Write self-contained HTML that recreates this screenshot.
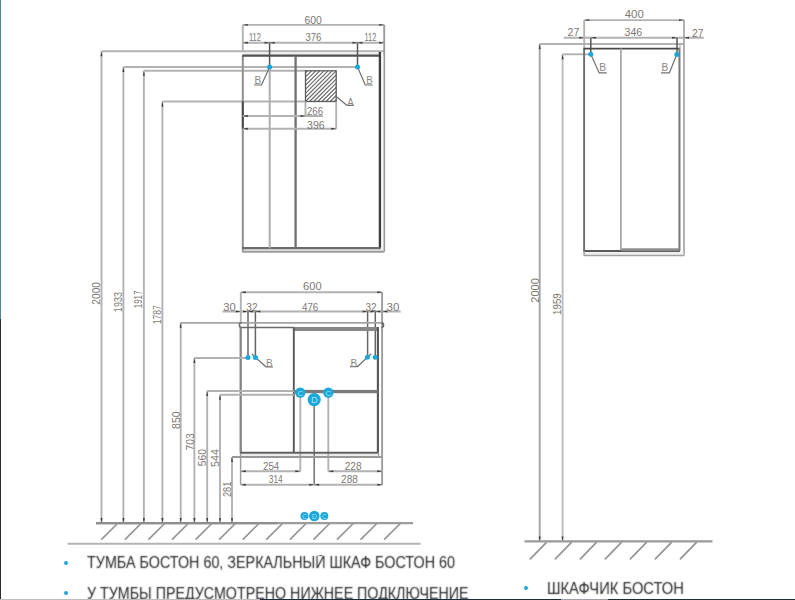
<!DOCTYPE html>
<html><head><meta charset="utf-8"><style>
html,body{margin:0;padding:0;background:#fff;}
body{width:795px;height:600px;overflow:hidden;position:relative;font-family:"Liberation Sans",sans-serif;}
svg{position:absolute;left:0;top:0;}
svg text{font-family:"Liberation Sans",sans-serif;}
.b{filter:url(#soft);position:absolute;color:#262626;font-size:15.6px;white-space:nowrap;line-height:1;transform-origin:0 0;}
.dot{position:absolute;width:4px;height:4px;border-radius:50%;background:#1ea8e0;}
.edge{position:absolute;left:0;width:1px;}
</style></head><body>
<svg width="795" height="600" viewBox="0 0 795 600"><defs><filter id="soft" filterUnits="userSpaceOnUse" x="0" y="0" width="795" height="600"><feConvolveMatrix order="3" kernelMatrix="1 2 1 2 12 2 1 2 1" divisor="24" edgeMode="none"/></filter></defs>
<line x1="101.5" y1="51.3" x2="101.5" y2="523.1" stroke="#b2b2b2" stroke-width="1.9"/>
<polygon points="101.50,51.30 102.45,56.30 100.55,56.30" fill="#3a3a3a"/>
<polygon points="101.50,523.10 100.55,518.10 102.45,518.10" fill="#3a3a3a"/>
<line x1="123.4" y1="67.0" x2="123.4" y2="523.1" stroke="#b2b2b2" stroke-width="1.9"/>
<polygon points="123.40,67.00 124.35,72.00 122.45,72.00" fill="#3a3a3a"/>
<polygon points="123.40,523.10 122.45,518.10 124.35,518.10" fill="#3a3a3a"/>
<line x1="143.9" y1="70.8" x2="143.9" y2="523.1" stroke="#b2b2b2" stroke-width="1.9"/>
<polygon points="143.90,70.80 144.85,75.80 142.95,75.80" fill="#3a3a3a"/>
<polygon points="143.90,523.10 142.95,518.10 144.85,518.10" fill="#3a3a3a"/>
<line x1="162.4" y1="101.5" x2="162.4" y2="523.1" stroke="#b2b2b2" stroke-width="1.9"/>
<polygon points="162.40,101.50 163.35,106.50 161.45,106.50" fill="#3a3a3a"/>
<polygon points="162.40,523.10 161.45,518.10 163.35,518.10" fill="#3a3a3a"/>
<line x1="180.7" y1="322.8" x2="180.7" y2="523.1" stroke="#b2b2b2" stroke-width="1.9"/>
<polygon points="180.70,322.80 181.65,327.80 179.75,327.80" fill="#3a3a3a"/>
<polygon points="180.70,523.10 179.75,518.10 181.65,518.10" fill="#3a3a3a"/>
<line x1="194.4" y1="358.0" x2="194.4" y2="523.1" stroke="#b2b2b2" stroke-width="1.9"/>
<polygon points="194.40,358.00 195.35,363.00 193.45,363.00" fill="#3a3a3a"/>
<polygon points="194.40,523.10 193.45,518.10 195.35,518.10" fill="#3a3a3a"/>
<line x1="207.2" y1="391.0" x2="207.2" y2="523.1" stroke="#b2b2b2" stroke-width="1.9"/>
<polygon points="207.20,391.00 208.15,396.00 206.25,396.00" fill="#3a3a3a"/>
<polygon points="207.20,523.10 206.25,518.10 208.15,518.10" fill="#3a3a3a"/>
<line x1="220.0" y1="394.8" x2="220.0" y2="523.1" stroke="#b2b2b2" stroke-width="1.9"/>
<polygon points="220.00,394.80 220.95,399.80 219.05,399.80" fill="#3a3a3a"/>
<polygon points="220.00,523.10 219.05,518.10 220.95,518.10" fill="#3a3a3a"/>
<line x1="232.0" y1="457.0" x2="232.0" y2="523.1" stroke="#b2b2b2" stroke-width="1.9"/>
<polygon points="232.00,457.00 232.95,462.00 231.05,462.00" fill="#3a3a3a"/>
<polygon points="232.00,523.10 231.05,518.10 232.95,518.10" fill="#3a3a3a"/>
<line x1="101.5" y1="51.3" x2="384.2" y2="51.3" stroke="#b2b2b2" stroke-width="1.9"/>
<line x1="123.4" y1="67.0" x2="357.5" y2="67.0" stroke="#b2b2b2" stroke-width="1.9"/>
<line x1="143.9" y1="70.8" x2="305.5" y2="70.8" stroke="#b2b2b2" stroke-width="1.9"/>
<line x1="162.4" y1="101.5" x2="305.5" y2="101.5" stroke="#b2b2b2" stroke-width="1.9"/>
<line x1="242.8" y1="24.9" x2="384.2" y2="24.9" stroke="#b2b2b2" stroke-width="1.9"/>
<polygon points="242.80,24.90 247.80,23.95 247.80,25.85" fill="#3a3a3a"/>
<polygon points="384.20,24.90 379.20,25.85 379.20,23.95" fill="#3a3a3a"/>
<line x1="242.8" y1="42.7" x2="384.2" y2="42.7" stroke="#b2b2b2" stroke-width="1.9"/>
<polygon points="242.80,42.70 247.80,41.75 247.80,43.65" fill="#3a3a3a"/>
<polygon points="269.60,42.70 264.60,43.65 264.60,41.75" fill="#3a3a3a"/>
<polygon points="269.60,42.70 274.60,41.75 274.60,43.65" fill="#3a3a3a"/>
<polygon points="357.50,42.70 352.50,43.65 352.50,41.75" fill="#3a3a3a"/>
<polygon points="357.50,42.70 362.50,41.75 362.50,43.65" fill="#3a3a3a"/>
<polygon points="384.20,42.70 379.20,43.65 379.20,41.75" fill="#3a3a3a"/>
<line x1="242.8" y1="24.9" x2="242.8" y2="51.3" stroke="#b2b2b2" stroke-width="1.9"/>
<line x1="384.2" y1="24.9" x2="384.2" y2="251.7" stroke="#9c9c9c" stroke-width="1.9"/>
<rect x="243.5" y="248.8" width="140" height="2.3" fill="#ececec"/>
<rect x="243.5" y="52.2" width="136.5" height="2.5" fill="#eeeeee"/>
<path d="M242.8,248 L242.8,251.7 L384.2,251.7" stroke="#9c9c9c" stroke-width="1.9" fill="none" stroke-linejoin="round"/>
<rect x="380.8" y="55.5" width="2.6" height="193" fill="#f6f6f6"/>
<line x1="242.8" y1="55.5" x2="242.8" y2="248.4" stroke="#8e8e8e" stroke-width="2.0"/>
<line x1="242.8" y1="101.5" x2="242.8" y2="128.8" stroke="#4a4a4a" stroke-width="2.0"/>
<line x1="242.2" y1="55.6" x2="380.8" y2="55.6" stroke="#505050" stroke-width="2.1"/>
<line x1="379.9" y1="52.0" x2="379.9" y2="248.4" stroke="#3c3c3c" stroke-width="2.3"/>
<line x1="242.2" y1="248.1" x2="380.6" y2="248.1" stroke="#6a6a6a" stroke-width="2.1"/>
<line x1="295.6" y1="55.6" x2="295.6" y2="248.3" stroke="#707070" stroke-width="2.3"/>
<line x1="269.6" y1="42.7" x2="269.6" y2="67.0" stroke="#555" stroke-width="1.5"/>
<line x1="269.7" y1="67.0" x2="269.7" y2="248.3" stroke="#adadad" stroke-width="2.0"/>
<line x1="357.5" y1="42.7" x2="357.5" y2="67.0" stroke="#555" stroke-width="1.5"/>
<clipPath id="hb"><rect x="305.5" y="70.8" width="30.7" height="30.7"/></clipPath>
<path d="M272.70,101.5 L303.40,70.8 M276.80,101.5 L307.50,70.8 M280.90,101.5 L311.60,70.8 M285.00,101.5 L315.70,70.8 M289.10,101.5 L319.80,70.8 M293.20,101.5 L323.90,70.8 M297.30,101.5 L328.00,70.8 M301.40,101.5 L332.10,70.8 M305.50,101.5 L336.20,70.8 M309.60,101.5 L340.30,70.8 M313.70,101.5 L344.40,70.8 M317.80,101.5 L348.50,70.8 M321.90,101.5 L352.60,70.8 M326.00,101.5 L356.70,70.8 M330.10,101.5 L360.80,70.8 M334.20,101.5 L364.90,70.8 M338.30,101.5 L369.00,70.8" stroke="#6a6a6a" stroke-width="1.15" clip-path="url(#hb)"/>
<rect x="305.5" y="70.8" width="30.7" height="30.7" fill="none" stroke="#5a5a5a" stroke-width="1.3"/>
<line x1="305.5" y1="101.5" x2="305.5" y2="116.0" stroke="#b2b2b2" stroke-width="1.9"/>
<line x1="336.2" y1="101.5" x2="336.2" y2="128.8" stroke="#b2b2b2" stroke-width="1.9"/>
<line x1="242.8" y1="116.0" x2="323.0" y2="116.0" stroke="#b2b2b2" stroke-width="1.9"/>
<polygon points="242.80,116.00 247.80,115.05 247.80,116.95" fill="#3a3a3a"/>
<polygon points="305.50,116.00 300.50,116.95 300.50,115.05" fill="#3a3a3a"/>
<line x1="242.8" y1="128.8" x2="336.2" y2="128.8" stroke="#b2b2b2" stroke-width="1.9"/>
<polygon points="242.80,128.80 247.80,127.85 247.80,129.75" fill="#3a3a3a"/>
<polygon points="336.20,128.80 331.20,129.75 331.20,127.85" fill="#3a3a3a"/>
<path d="M336.2,96.5 L346.8,105.3 L354,105.3" stroke="#707070" stroke-width="1.2" fill="none" stroke-linejoin="round"/>
<path d="M269.6,67 L261.5,85 L254,85" stroke="#707070" stroke-width="1.2" fill="none" stroke-linejoin="round"/>
<path d="M357.5,67 L365.3,85 L372.7,85" stroke="#707070" stroke-width="1.2" fill="none" stroke-linejoin="round"/>
<line x1="240.8" y1="292.3" x2="382.3" y2="292.3" stroke="#b2b2b2" stroke-width="1.9"/>
<polygon points="240.80,292.30 245.80,291.35 245.80,293.25" fill="#3a3a3a"/>
<polygon points="382.30,292.30 377.30,293.25 377.30,291.35" fill="#3a3a3a"/>
<line x1="222.5" y1="311.5" x2="400.7" y2="311.5" stroke="#b2b2b2" stroke-width="1.9"/>
<polygon points="240.80,311.50 235.80,312.45 235.80,310.55" fill="#3a3a3a"/>
<polygon points="248.00,311.50 253.00,310.55 253.00,312.45" fill="#3a3a3a"/>
<polygon points="255.40,311.50 260.40,310.55 260.40,312.45" fill="#3a3a3a"/>
<polygon points="367.60,311.50 362.60,312.45 362.60,310.55" fill="#3a3a3a"/>
<polygon points="375.30,311.50 370.30,312.45 370.30,310.55" fill="#3a3a3a"/>
<polygon points="382.30,311.50 387.30,310.55 387.30,312.45" fill="#3a3a3a"/>
<polygon points="248.00,311.50 243.00,312.45 243.00,310.55" fill="#3a3a3a"/>
<polygon points="375.30,311.50 380.30,310.55 380.30,312.45" fill="#3a3a3a"/>
<line x1="240.8" y1="292.3" x2="240.8" y2="322.8" stroke="#b2b2b2" stroke-width="1.9"/>
<line x1="382.1" y1="292.3" x2="382.1" y2="485.0" stroke="#9c9c9c" stroke-width="1.9"/>
<line x1="248.0" y1="311.5" x2="248.0" y2="357.5" stroke="#666" stroke-width="1.5"/>
<line x1="255.4" y1="311.5" x2="255.4" y2="357.5" stroke="#666" stroke-width="1.5"/>
<line x1="367.6" y1="311.5" x2="367.6" y2="357.3" stroke="#666" stroke-width="1.5"/>
<line x1="375.3" y1="311.5" x2="375.3" y2="357.3" stroke="#666" stroke-width="1.5"/>
<line x1="180.7" y1="322.8" x2="382.0" y2="322.8" stroke="#a4a4a4" stroke-width="1.7"/>
<path d="M241.5,322.8 Q239.3,322.9 239.4,325.1 Q239.5,327.5 241.5,327.5 L294,327.5" stroke="#6a6a6a" stroke-width="1.6" fill="none" stroke-linejoin="round"/>
<path d="M381.5,322.8 Q383.6,323 383.6,325.1 Q383.6,327.3 381.5,327.5" stroke="#606060" stroke-width="1.5" fill="none" stroke-linejoin="round"/>
<rect x="293.6" y="327.0" width="84.6" height="4.0" fill="#878787"/>
<rect x="241.5" y="453.7" width="137" height="2.2" fill="#ececec"/>
<line x1="300.3" y1="392.5" x2="300.3" y2="471.3" stroke="#b2b2b2" stroke-width="1.9"/>
<line x1="314.2" y1="399.6" x2="314.2" y2="484.8" stroke="#7a7a7a" stroke-width="1.6"/>
<line x1="328.3" y1="392.5" x2="328.3" y2="471.3" stroke="#b2b2b2" stroke-width="1.9"/>
<line x1="240.7" y1="327.5" x2="240.7" y2="452.7" stroke="#858585" stroke-width="2.3"/>
<line x1="240.6" y1="452.7" x2="240.6" y2="484.8" stroke="#a0a0a0" stroke-width="1.5"/>
<line x1="377.9" y1="327.0" x2="377.9" y2="452.7" stroke="#555555" stroke-width="2.1"/>
<line x1="240.2" y1="452.7" x2="378.6" y2="452.7" stroke="#606060" stroke-width="2.1"/>
<line x1="293.8" y1="327.5" x2="293.8" y2="452.7" stroke="#585858" stroke-width="1.9"/>
<rect x="293.6" y="389.9" width="84.6" height="3.3" fill="#7a7a7a"/>
<line x1="194.4" y1="358.0" x2="248.0" y2="358.0" stroke="#b2b2b2" stroke-width="1.9"/>
<line x1="207.2" y1="391.0" x2="293.8" y2="391.0" stroke="#b2b2b2" stroke-width="1.9"/>
<line x1="220.0" y1="394.8" x2="293.8" y2="394.8" stroke="#b2b2b2" stroke-width="1.9"/>
<line x1="232.0" y1="456.9" x2="382.1" y2="456.9" stroke="#989898" stroke-width="2.0"/>
<line x1="378.7" y1="452.7" x2="378.7" y2="457.0" stroke="#9c9c9c" stroke-width="1.2"/>
<line x1="240.8" y1="471.3" x2="300.3" y2="471.3" stroke="#b2b2b2" stroke-width="1.9"/>
<polygon points="240.80,471.30 245.80,470.35 245.80,472.25" fill="#3a3a3a"/>
<polygon points="300.30,471.30 295.30,472.25 295.30,470.35" fill="#3a3a3a"/>
<line x1="328.3" y1="471.3" x2="382.3" y2="471.3" stroke="#b2b2b2" stroke-width="1.9"/>
<polygon points="328.30,471.30 333.30,470.35 333.30,472.25" fill="#3a3a3a"/>
<polygon points="382.30,471.30 377.30,472.25 377.30,470.35" fill="#3a3a3a"/>
<line x1="240.8" y1="484.8" x2="382.3" y2="484.8" stroke="#b2b2b2" stroke-width="1.9"/>
<polygon points="240.80,484.80 245.80,483.85 245.80,485.75" fill="#3a3a3a"/>
<polygon points="314.20,484.80 309.20,485.75 309.20,483.85" fill="#3a3a3a"/>
<polygon points="314.20,484.80 319.20,483.85 319.20,485.75" fill="#3a3a3a"/>
<polygon points="382.30,484.80 377.30,485.75 377.30,483.85" fill="#3a3a3a"/>
<path d="M252,354 L255.5,357.5 L265.9,366.8 L272.9,366.8" stroke="#707070" stroke-width="1.2" fill="none" stroke-linejoin="round"/>
<path d="M371.3,353.8 L367.4,357.3 L357.3,366.7 L349.9,366.7" stroke="#707070" stroke-width="1.2" fill="none" stroke-linejoin="round"/>
<line x1="96.0" y1="523.1" x2="413.0" y2="523.1" stroke="#9c9c9c" stroke-width="2.2"/>
<line x1="96.0" y1="523.1" x2="277.0" y2="523.1" stroke="#8e8e8e" stroke-width="2.2"/>
<path d="M101.30,539.7 L117.50,523.5 M124.87,539.7 L141.07,523.5 M148.44,539.7 L164.64,523.5 M172.01,539.7 L188.21,523.5 M195.58,539.7 L211.78,523.5 M219.15,539.7 L235.35,523.5 M242.72,539.7 L258.92,523.5 M266.29,539.7 L282.49,523.5 M289.86,539.7 L306.06,523.5 M313.43,539.7 L329.63,523.5 M337.00,539.7 L353.20,523.5 M360.57,539.7 L376.77,523.5 M384.14,539.7 L400.34,523.5" stroke="#959595" stroke-width="1.7"/>
<line x1="539.7" y1="44.0" x2="539.7" y2="541.4" stroke="#a4a4a4" stroke-width="1.9"/>
<polygon points="539.70,44.00 540.65,49.00 538.75,49.00" fill="#3a3a3a"/>
<polygon points="539.70,541.40 538.75,536.40 540.65,536.40" fill="#3a3a3a"/>
<line x1="562.6" y1="54.3" x2="562.6" y2="541.4" stroke="#bcbcbc" stroke-width="1.9"/>
<polygon points="562.60,54.30 563.55,59.30 561.65,59.30" fill="#3a3a3a"/>
<polygon points="562.60,541.40 561.65,536.40 563.55,536.40" fill="#3a3a3a"/>
<line x1="539.7" y1="44.0" x2="684.0" y2="44.0" stroke="#b2b2b2" stroke-width="1.9"/>
<line x1="562.6" y1="54.3" x2="590.8" y2="54.3" stroke="#b2b2b2" stroke-width="1.9"/>
<line x1="584.2" y1="20.1" x2="684.0" y2="20.1" stroke="#b2b2b2" stroke-width="1.9"/>
<polygon points="584.20,20.10 589.20,19.15 589.20,21.05" fill="#3a3a3a"/>
<polygon points="684.00,20.10 679.00,21.05 679.00,19.15" fill="#3a3a3a"/>
<line x1="563.8" y1="37.8" x2="703.9" y2="37.8" stroke="#b2b2b2" stroke-width="1.9"/>
<polygon points="584.20,37.80 579.20,38.75 579.20,36.85" fill="#3a3a3a"/>
<polygon points="590.80,37.80 595.80,36.85 595.80,38.75" fill="#3a3a3a"/>
<polygon points="677.10,37.80 672.10,38.75 672.10,36.85" fill="#3a3a3a"/>
<polygon points="684.00,37.80 689.00,36.85 689.00,38.75" fill="#3a3a3a"/>
<line x1="584.2" y1="20.1" x2="584.2" y2="48.5" stroke="#b2b2b2" stroke-width="1.9"/>
<line x1="684.0" y1="20.1" x2="684.0" y2="255.5" stroke="#a4a4a4" stroke-width="1.7"/>
<line x1="590.8" y1="37.8" x2="590.8" y2="54.3" stroke="#555" stroke-width="1.5"/>
<line x1="677.0" y1="37.8" x2="677.0" y2="54.5" stroke="#555" stroke-width="1.5"/>
<rect x="584.8" y="251.8" width="98.6" height="3.0" fill="#efefef"/>
<line x1="584.1" y1="48.6" x2="584.1" y2="251.0" stroke="#6e6e6e" stroke-width="1.9"/>
<line x1="583.4" y1="48.6" x2="679.6" y2="48.6" stroke="#4a4a4a" stroke-width="1.9"/>
<line x1="680.0" y1="44.0" x2="680.0" y2="251.0" stroke="#b0b0b0" stroke-width="1.3"/>
<line x1="679.3" y1="48.6" x2="679.3" y2="251.0" stroke="#7a7a7a" stroke-width="1.7"/>
<line x1="583.4" y1="251.0" x2="679.9" y2="251.0" stroke="#5a5a5a" stroke-width="1.8"/>
<rect x="621" y="248.3" width="58.3" height="2.8" fill="#8a8a8a"/>
<line x1="620.9" y1="48.6" x2="620.9" y2="250.0" stroke="#a8a8a8" stroke-width="1.8"/>
<path d="M584.1,251 L584.1,255.5 L684,255.5" stroke="#a0a0a0" stroke-width="1.5" fill="none" stroke-linejoin="round"/>
<path d="M590.8,54.3 L599.2,72.9 L606.7,72.9" stroke="#707070" stroke-width="1.2" fill="none" stroke-linejoin="round"/>
<path d="M676.8,54.5 L669.3,72.9 L661.0,72.9" stroke="#707070" stroke-width="1.2" fill="none" stroke-linejoin="round"/>
<line x1="524.5" y1="541.4" x2="712.5" y2="541.4" stroke="#9a9a9a" stroke-width="2.1"/>
<path d="M529.90,559.4 L546.70,542.1 M554.90,559.4 L571.70,542.1 M579.90,559.4 L596.70,542.1 M604.90,559.4 L621.70,542.1 M629.90,559.4 L646.70,542.1 M654.90,559.4 L671.70,542.1 M679.90,559.4 L696.70,542.1" stroke="#959595" stroke-width="1.7"/>
<text x="304.42" y="24.12" font-size="10.30" textLength="17.45" lengthAdjust="spacingAndGlyphs" fill="#7c7874">600</text>
<text x="248.92" y="41.47" font-size="10.30" textLength="12.00" lengthAdjust="spacingAndGlyphs" fill="#7c7874">112</text>
<text x="305.44" y="41.28" font-size="10.30" textLength="15.92" lengthAdjust="spacingAndGlyphs" fill="#7c7874">376</text>
<text x="364.48" y="41.46" font-size="10.30" textLength="11.78" lengthAdjust="spacingAndGlyphs" fill="#7c7874">112</text>
<text x="307.02" y="114.55" font-size="10.30" textLength="16.02" lengthAdjust="spacingAndGlyphs" fill="#7c7874">266</text>
<text x="307.11" y="128.80" font-size="10.30" textLength="17.47" lengthAdjust="spacingAndGlyphs" fill="#7c7874">396</text>
<text x="303.08" y="290.42" font-size="10.30" textLength="18.48" lengthAdjust="spacingAndGlyphs" fill="#7c7874">600</text>
<text x="302.06" y="311.44" font-size="10.30" textLength="16.21" lengthAdjust="spacingAndGlyphs" fill="#7c7874">476</text>
<text x="223.18" y="310.84" font-size="10.30" textLength="12.45" lengthAdjust="spacingAndGlyphs" fill="#7c7874">30</text>
<text x="246.35" y="310.54" font-size="10.30" textLength="11.22" lengthAdjust="spacingAndGlyphs" fill="#7c7874">32</text>
<text x="365.45" y="310.65" font-size="10.30" textLength="10.96" lengthAdjust="spacingAndGlyphs" fill="#7c7874">32</text>
<text x="386.52" y="310.63" font-size="10.30" textLength="12.79" lengthAdjust="spacingAndGlyphs" fill="#7c7874">30</text>
<text x="263.00" y="470.07" font-size="10.30" textLength="16.23" lengthAdjust="spacingAndGlyphs" fill="#7c7874">254</text>
<text x="344.79" y="470.35" font-size="10.30" textLength="16.72" lengthAdjust="spacingAndGlyphs" fill="#7c7874">228</text>
<text x="268.75" y="482.85" font-size="10.30" textLength="13.91" lengthAdjust="spacingAndGlyphs" fill="#7c7874">314</text>
<text x="341.10" y="483.22" font-size="10.30" textLength="16.83" lengthAdjust="spacingAndGlyphs" fill="#7c7874">288</text>
<text x="99.61" y="304.66" font-size="10.60" textLength="22.62" lengthAdjust="spacingAndGlyphs" fill="#7c7874" transform="rotate(-90 99.61 304.66)">2000</text>
<text x="121.83" y="312.13" font-size="10.60" textLength="20.04" lengthAdjust="spacingAndGlyphs" fill="#7c7874" transform="rotate(-90 121.83 312.13)">1933</text>
<text x="142.24" y="308.31" font-size="10.60" textLength="17.87" lengthAdjust="spacingAndGlyphs" fill="#7c7874" transform="rotate(-90 142.24 308.31)">1917</text>
<text x="161.26" y="324.30" font-size="10.60" textLength="19.22" lengthAdjust="spacingAndGlyphs" fill="#7c7874" transform="rotate(-90 161.26 324.30)">1787</text>
<text x="179.61" y="428.88" font-size="10.60" textLength="17.44" lengthAdjust="spacingAndGlyphs" fill="#7c7874" transform="rotate(-90 179.61 428.88)">850</text>
<text x="193.97" y="450.51" font-size="10.60" textLength="17.21" lengthAdjust="spacingAndGlyphs" fill="#7c7874" transform="rotate(-90 193.97 450.51)">703</text>
<text x="205.89" y="466.15" font-size="10.60" textLength="17.19" lengthAdjust="spacingAndGlyphs" fill="#7c7874" transform="rotate(-90 205.89 466.15)">560</text>
<text x="219.07" y="466.87" font-size="10.60" textLength="17.68" lengthAdjust="spacingAndGlyphs" fill="#7c7874" transform="rotate(-90 219.07 466.87)">544</text>
<text x="230.53" y="497.11" font-size="10.60" textLength="15.43" lengthAdjust="spacingAndGlyphs" fill="#7c7874" transform="rotate(-90 230.53 497.11)">281</text>
<text x="538.65" y="302.75" font-size="10.70" textLength="24.59" lengthAdjust="spacingAndGlyphs" fill="#7c7874" transform="rotate(-90 538.65 302.75)">2000</text>
<text x="561.21" y="314.88" font-size="10.70" textLength="21.55" lengthAdjust="spacingAndGlyphs" fill="#7c7874" transform="rotate(-90 561.21 314.88)">1959</text>
<text x="624.74" y="18.48" font-size="10.70" textLength="18.98" lengthAdjust="spacingAndGlyphs" fill="#7c7874">400</text>
<text x="624.54" y="36.43" font-size="10.70" textLength="17.68" lengthAdjust="spacingAndGlyphs" fill="#7c7874">346</text>
<text x="567.53" y="36.27" font-size="10.70" textLength="11.87" lengthAdjust="spacingAndGlyphs" fill="#7c7874">27</text>
<text x="691.89" y="36.83" font-size="10.70" textLength="11.53" lengthAdjust="spacingAndGlyphs" fill="#7c7874">27</text>
<text x="254.50" y="83.70" font-size="10.30" textLength="6.70" lengthAdjust="spacingAndGlyphs" fill="#8a8683">B</text>
<text x="366.16" y="84.00" font-size="10.30" textLength="6.50" lengthAdjust="spacingAndGlyphs" fill="#8a8683">B</text>
<text x="265.91" y="366.68" font-size="10.30" textLength="6.65" lengthAdjust="spacingAndGlyphs" fill="#8a8683">B</text>
<text x="350.58" y="366.68" font-size="10.30" textLength="6.75" lengthAdjust="spacingAndGlyphs" fill="#8a8683">B</text>
<text x="599.28" y="71.32" font-size="10.70" textLength="6.91" lengthAdjust="spacingAndGlyphs" fill="#8a8683">B</text>
<text x="661.40" y="71.32" font-size="10.70" textLength="6.82" lengthAdjust="spacingAndGlyphs" fill="#8a8683">B</text>
<text x="347.36" y="105.63" font-size="10.30" textLength="6.52" lengthAdjust="spacingAndGlyphs" fill="#8a8683">A</text>
<line x1="67.6" y1="543.8" x2="420.6" y2="543.8" stroke="#b4b4b4" stroke-width="2.1"/>
<circle cx="269.6" cy="67.0" r="2.5" fill="#1aa7da"/>
<circle cx="357.5" cy="67.0" r="2.5" fill="#1aa7da"/>
<circle cx="300.3" cy="392.6" r="5.2" fill="#1aa7da"/>
<circle cx="328.3" cy="392.6" r="5.2" fill="#1aa7da"/>
<circle cx="314.2" cy="399.6" r="6.6" fill="#1aa7da"/>
<text x="300.3" y="395.9" font-size="8.0" fill="#a9def2" text-anchor="middle">C</text>
<text x="328.3" y="395.9" font-size="8.0" fill="#a9def2" text-anchor="middle">C</text>
<text x="314.3" y="403.4" font-size="9.2" fill="#a9def2" text-anchor="middle">D</text>
<circle cx="248.0" cy="357.5" r="2.5" fill="#1aa7da"/>
<circle cx="255.4" cy="357.5" r="2.5" fill="#1aa7da"/>
<circle cx="367.4" cy="357.3" r="2.5" fill="#1aa7da"/>
<circle cx="375.2" cy="357.3" r="2.5" fill="#1aa7da"/>
<circle cx="304.5" cy="516.0" r="4.0" fill="#1aa7da"/>
<circle cx="324.3" cy="516.0" r="4.0" fill="#1aa7da"/>
<circle cx="314.3" cy="516.0" r="5.3" fill="#1aa7da"/>
<text x="304.6" y="518.6" font-size="6.5" fill="#a9def2" text-anchor="middle">C</text>
<text x="324.4" y="518.6" font-size="6.5" fill="#a9def2" text-anchor="middle">C</text>
<text x="314.3" y="519.0" font-size="7.0" fill="#a9def2" text-anchor="middle">D</text>
<circle cx="590.8" cy="54.3" r="2.5" fill="#1aa7da"/>
<circle cx="676.8" cy="54.5" r="2.5" fill="#1aa7da"/>
</svg>
<div class="dot" style="left:63.7px;top:560.6px"></div>
<div class="dot" style="left:63.7px;top:590.5px"></div>
<div class="dot" style="left:524.3px;top:586px"></div>
<div class="b" style="left:87px;top:555.2px;transform:scaleX(0.92)">ТУМБА БОСТОН 60, ЗЕРКАЛЬНЫЙ ШКАФ БОСТОН 60</div>
<div class="b" style="left:86.5px;top:585.6px;transform:scaleX(0.915)">У ТУМБЫ ПРЕДУСМОТРЕНО НИЖНЕЕ ПОДКЛЮЧЕНИЕ</div>
<div class="b" style="left:546.8px;top:580.6px;transform:scaleX(0.945)">ШКАФЧИК БОСТОН</div>
<div class="edge" style="top:0;height:319px;background:#4d87a8"></div>
<div class="edge" style="top:319px;height:281px;background:#2b2b2b"></div>
<div style="position:absolute;left:0;top:599px;width:260px;height:1px;background:#bdbdbd"></div>
<div style="position:absolute;left:260px;top:599px;width:301px;height:1px;background:#1c2a3c"></div>
<div style="position:absolute;left:561px;top:599px;width:47px;height:1px;background:#9aa0a8"></div>
<div style="position:absolute;left:608px;top:599px;width:187px;height:1px;background:#1c2a3c"></div>
</body></html>
